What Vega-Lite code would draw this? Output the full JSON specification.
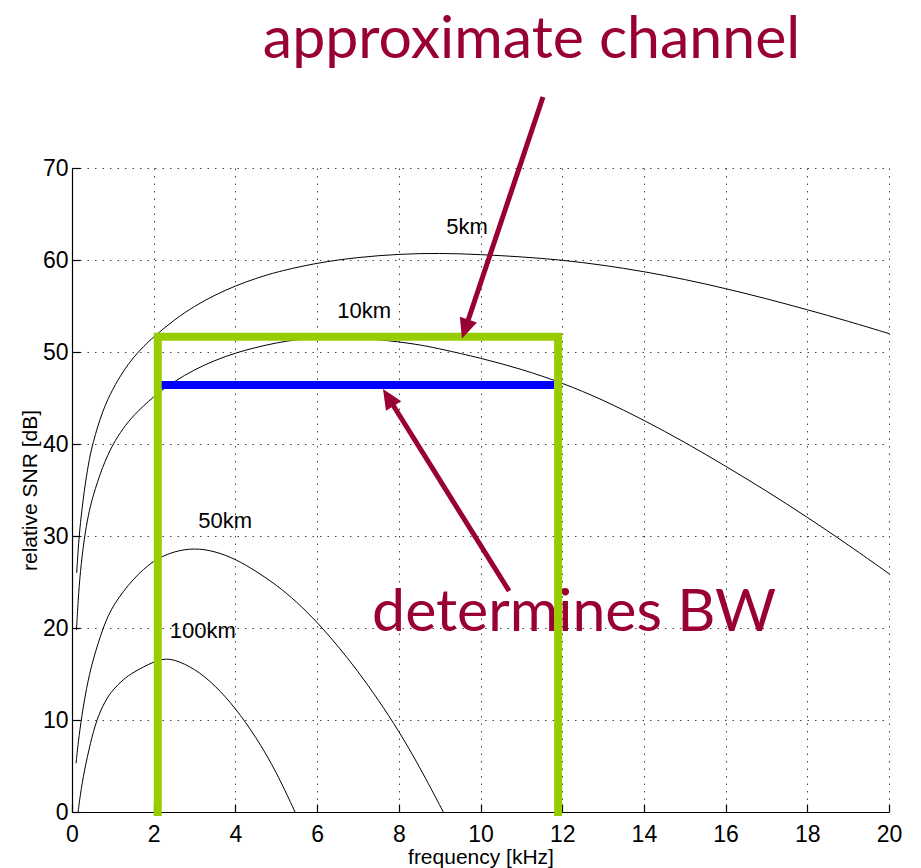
{
  "$schema": "https://vega.github.io/schema/vega-lite/v6.json",
  "width": 817,
  "height": 644,
  "autosize": {"type": "none"},
  "padding": {"left": 72, "top": 168, "right": 32, "bottom": 56},
  "background": "white",
  "config": {
    "view": {"stroke": null},
    "axis": {
      "labelFont": "Liberation Sans",
      "labelFontSize": 23,
      "labelColor": "#000",
      "titleFont": "Liberation Sans",
      "titleFontSize": 21,
      "titleFontWeight": "normal",
      "titleColor": "#000",
      "domainColor": "#000",
      "domainWidth": 1.2,
      "tickColor": "#000",
      "tickWidth": 1.2,
      "tickSize": -8,
      "gridColor": "#444",
      "gridDash": [1.5, 6],
      "gridOpacity": 1,
      "gridWidth": 1,
      "labelFlush": false,
      "labelOverlap": false
    }
  },
  "datasets": {
    "curves": [
      {"d": "5km", "f": 0.115, "snr": 26.0}, {"d": "5km", "f": 0.15, "snr": 28.5}, {"d": "5km", "f": 0.2, "snr": 31.3}, {"d": "5km", "f": 0.3, "snr": 35.0}, {"d": "5km", "f": 0.4, "snr": 37.8}, {"d": "5km", "f": 0.5, "snr": 40.0}, {"d": "5km", "f": 0.75, "snr": 43.7}, {"d": "5km", "f": 1.0, "snr": 46.0}, {"d": "5km", "f": 1.25, "snr": 47.9}, {"d": "5km", "f": 1.5, "snr": 49.4}, {"d": "5km", "f": 1.75, "snr": 50.6}, {"d": "5km", "f": 2.0, "snr": 51.65}, {"d": "5km", "f": 2.5, "snr": 53.5}, {"d": "5km", "f": 3.0, "snr": 55.0}, {"d": "5km", "f": 3.5, "snr": 56.2}, {"d": "5km", "f": 4.0, "snr": 57.2}, {"d": "5km", "f": 4.5, "snr": 58.0}, {"d": "5km", "f": 5.0, "snr": 58.7}, {"d": "5km", "f": 6.0, "snr": 59.7}, {"d": "5km", "f": 7.0, "snr": 60.3}, {"d": "5km", "f": 8.0, "snr": 60.65}, {"d": "5km", "f": 9.0, "snr": 60.75}, {"d": "5km", "f": 10.0, "snr": 60.6}, {"d": "5km", "f": 11.0, "snr": 60.35}, {"d": "5km", "f": 12.0, "snr": 60.0}, {"d": "5km", "f": 13.0, "snr": 59.45}, {"d": "5km", "f": 14.0, "snr": 58.75}, {"d": "5km", "f": 15.0, "snr": 57.9}, {"d": "5km", "f": 16.0, "snr": 56.9}, {"d": "5km", "f": 17.0, "snr": 55.8}, {"d": "5km", "f": 18.0, "snr": 54.6}, {"d": "5km", "f": 19.0, "snr": 53.35}, {"d": "5km", "f": 20.0, "snr": 52.0},
      {"d": "10km", "f": 0.11, "snr": 19.8}, {"d": "10km", "f": 0.15, "snr": 23.0}, {"d": "10km", "f": 0.2, "snr": 26.0}, {"d": "10km", "f": 0.3, "snr": 29.8}, {"d": "10km", "f": 0.4, "snr": 32.3}, {"d": "10km", "f": 0.5, "snr": 34.2}, {"d": "10km", "f": 0.75, "snr": 37.6}, {"d": "10km", "f": 1.0, "snr": 40.0}, {"d": "10km", "f": 1.25, "snr": 41.7}, {"d": "10km", "f": 1.5, "snr": 43.1}, {"d": "10km", "f": 2.0, "snr": 45.2}, {"d": "10km", "f": 2.5, "snr": 46.8}, {"d": "10km", "f": 3.0, "snr": 48.1}, {"d": "10km", "f": 3.5, "snr": 49.1}, {"d": "10km", "f": 4.0, "snr": 49.9}, {"d": "10km", "f": 4.5, "snr": 50.5}, {"d": "10km", "f": 5.0, "snr": 51.0}, {"d": "10km", "f": 5.5, "snr": 51.35}, {"d": "10km", "f": 6.0, "snr": 51.55}, {"d": "10km", "f": 6.5, "snr": 51.6}, {"d": "10km", "f": 7.0, "snr": 51.5}, {"d": "10km", "f": 7.5, "snr": 51.35}, {"d": "10km", "f": 8.0, "snr": 51.1}, {"d": "10km", "f": 8.5, "snr": 50.8}, {"d": "10km", "f": 9.0, "snr": 50.35}, {"d": "10km", "f": 10.0, "snr": 49.35}, {"d": "10km", "f": 11.0, "snr": 48.15}, {"d": "10km", "f": 12.0, "snr": 46.65}, {"d": "10km", "f": 13.0, "snr": 44.8}, {"d": "10km", "f": 14.0, "snr": 42.6}, {"d": "10km", "f": 15.0, "snr": 40.2}, {"d": "10km", "f": 16.0, "snr": 37.6}, {"d": "10km", "f": 17.0, "snr": 34.9}, {"d": "10km", "f": 18.0, "snr": 32.05}, {"d": "10km", "f": 19.0, "snr": 29.05}, {"d": "10km", "f": 20.0, "snr": 25.9},
      {"d": "50km", "f": 0.1, "snr": 5.3}, {"d": "50km", "f": 0.15, "snr": 7.5}, {"d": "50km", "f": 0.24, "snr": 10.5}, {"d": "50km", "f": 0.35, "snr": 13.4}, {"d": "50km", "f": 0.5, "snr": 16.4}, {"d": "50km", "f": 0.77, "snr": 20.2}, {"d": "50km", "f": 1.0, "snr": 22.5}, {"d": "50km", "f": 1.5, "snr": 25.4}, {"d": "50km", "f": 2.0, "snr": 27.4}, {"d": "50km", "f": 2.5, "snr": 28.35}, {"d": "50km", "f": 3.0, "snr": 28.7}, {"d": "50km", "f": 3.5, "snr": 28.35}, {"d": "50km", "f": 4.0, "snr": 27.5}, {"d": "50km", "f": 4.5, "snr": 26.2}, {"d": "50km", "f": 5.0, "snr": 24.7}, {"d": "50km", "f": 5.5, "snr": 22.85}, {"d": "50km", "f": 6.0, "snr": 20.65}, {"d": "50km", "f": 6.5, "snr": 18.1}, {"d": "50km", "f": 7.0, "snr": 15.3}, {"d": "50km", "f": 7.5, "snr": 12.2}, {"d": "50km", "f": 8.0, "snr": 8.8}, {"d": "50km", "f": 8.5, "snr": 5.0}, {"d": "50km", "f": 9.09, "snr": 0.0},
      {"d": "100km", "f": 0.15, "snr": 0.0}, {"d": "100km", "f": 0.2, "snr": 1.8}, {"d": "100km", "f": 0.3, "snr": 4.5}, {"d": "100km", "f": 0.45, "snr": 7.5}, {"d": "100km", "f": 0.6, "snr": 10.0}, {"d": "100km", "f": 0.8, "snr": 12.0}, {"d": "100km", "f": 1.0, "snr": 13.3}, {"d": "100km", "f": 1.25, "snr": 14.4}, {"d": "100km", "f": 1.5, "snr": 15.2}, {"d": "100km", "f": 2.0, "snr": 16.35}, {"d": "100km", "f": 2.25, "snr": 16.65}, {"d": "100km", "f": 2.5, "snr": 16.6}, {"d": "100km", "f": 3.0, "snr": 15.6}, {"d": "100km", "f": 3.5, "snr": 13.8}, {"d": "100km", "f": 4.0, "snr": 11.3}, {"d": "100km", "f": 4.5, "snr": 8.2}, {"d": "100km", "f": 5.0, "snr": 4.4}, {"d": "100km", "f": 5.46, "snr": 0.0}
    ],
    "curveLabels": [
      {"f": 9.67, "snr": 63.6, "t": "5km"},
      {"f": 7.15, "snr": 54.5, "t": "10km"},
      {"f": 3.75, "snr": 31.6, "t": "50km"},
      {"f": 3.2, "snr": 19.7, "t": "100km"}
    ],
    "blue": [
      {"f": 2.1, "f2": 11.8, "snr": 46.4}
    ],
    "green": [
      {"o": 1, "f": 2.1, "snr": 0},
      {"o": 2, "f": 2.1, "snr": 51.65},
      {"o": 3, "f": 11.9, "snr": 51.65},
      {"o": 4, "f": 11.9, "snr": 0}
    ],
    "arrow1": [{"f": 11.53, "snr": 77.72, "f2": 9.625, "snr2": 52.5}],
    "arrow2": [{"f": 10.70, "snr": 24.02, "f2": 7.743, "snr2": 45.05}],
    "notes": [
      {"f": 11.25, "snr": 82.0, "t": "approximate channel"},
      {"f": 12.29, "snr": 19.67, "t": "determines BW"}
    ]
  },
  "layer": [
    {
      "data": {"name": "curves"},
      "mark": {"type": "line", "color": "#000", "strokeWidth": 1, "interpolate": "basis"},
      "encoding": {
        "x": {"field": "f", "type": "quantitative",
              "scale": {"domain": [0, 20], "nice": false, "zero": false},
              "axis": {"title": "frequency [kHz]", "values": [0, 2, 4, 6, 8, 10, 12, 14, 16, 18, 20], "labelPadding": 19, "titlePadding": 0}},
        "y": {"field": "snr", "type": "quantitative",
              "scale": {"domain": [0, 70], "nice": false, "zero": false},
              "axis": {"title": "relative SNR [dB]", "values": [0, 10, 20, 30, 40, 50, 60, 70], "labelPadding": 12, "titlePadding": 2}},
        "detail": {"field": "d"}
      }
    },
    {
      "data": {"name": "curveLabels"},
      "mark": {"type": "text", "font": "Liberation Sans", "fontSize": 22, "color": "#000", "align": "center", "baseline": "middle"},
      "encoding": {
        "x": {"field": "f", "type": "quantitative", "title": "frequency [kHz]"},
        "y": {"field": "snr", "type": "quantitative", "title": "relative SNR [dB]"},
        "text": {"field": "t"}
      }
    },
    {
      "data": {"name": "blue"},
      "mark": {"type": "rule", "color": "#0000ff", "strokeWidth": 8},
      "encoding": {
        "x": {"field": "f", "type": "quantitative", "title": "frequency [kHz]"},
        "x2": {"field": "f2"},
        "y": {"field": "snr", "type": "quantitative", "title": "relative SNR [dB]"}
      }
    },
    {
      "data": {"name": "notes"},
      "mark": {"type": "text", "font": "Lato", "fontSize": 59, "color": "#990033", "align": "center", "baseline": "alphabetic"},
      "encoding": {
        "x": {"field": "f", "type": "quantitative", "title": "frequency [kHz]"},
        "y": {"field": "snr", "type": "quantitative", "title": "relative SNR [dB]"},
        "text": {"field": "t"}
      }
    },
    {
      "data": {"name": "green"},
      "mark": {"type": "line", "color": "#99cc00", "strokeWidth": 8, "strokeCap": "square", "strokeJoin": "miter"},
      "encoding": {
        "x": {"field": "f", "type": "quantitative", "title": "frequency [kHz]"},
        "y": {"field": "snr", "type": "quantitative", "title": "relative SNR [dB]"},
        "order": {"field": "o"}
      }
    },
    {
      "data": {"name": "arrow1"},
      "mark": {"type": "rule", "color": "#990033", "strokeWidth": 5},
      "encoding": {
        "x": {"field": "f", "type": "quantitative", "title": "frequency [kHz]"},
        "y": {"field": "snr", "type": "quantitative", "title": "relative SNR [dB]"},
        "x2": {"field": "f2"},
        "y2": {"field": "snr2"}
      }
    },
    {
      "data": {"name": "arrow1"},
      "mark": {"type": "point", "shape": "M0,-1L0.9,1L-0.9,1Z", "filled": true, "color": "#990033", "opacity": 1, "size": 400, "angle": 198.7},
      "encoding": {
        "x": {"field": "f2", "type": "quantitative", "title": "frequency [kHz]"},
        "y": {"field": "snr2", "type": "quantitative", "title": "relative SNR [dB]"}
      }
    },
    {
      "data": {"name": "arrow2"},
      "mark": {"type": "rule", "color": "#990033", "strokeWidth": 5},
      "encoding": {
        "x": {"field": "f", "type": "quantitative", "title": "frequency [kHz]"},
        "y": {"field": "snr", "type": "quantitative", "title": "relative SNR [dB]"},
        "x2": {"field": "f2"},
        "y2": {"field": "snr2"}
      }
    },
    {
      "data": {"name": "arrow2"},
      "mark": {"type": "point", "shape": "M0,-1L0.9,1L-0.9,1Z", "filled": true, "color": "#990033", "opacity": 1, "size": 400, "angle": 327.9},
      "encoding": {
        "x": {"field": "f2", "type": "quantitative", "title": "frequency [kHz]"},
        "y": {"field": "snr2", "type": "quantitative", "title": "relative SNR [dB]"}
      }
    }
  ]
}
